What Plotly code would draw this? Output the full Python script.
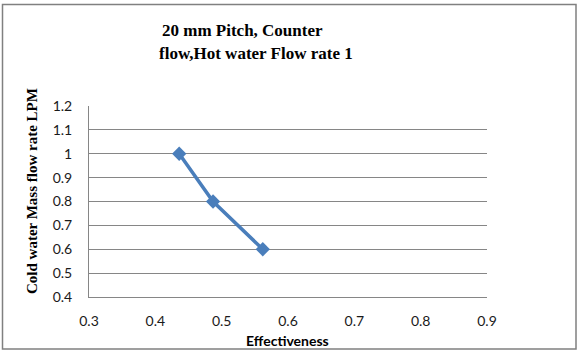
import plotly.graph_objects as go

effectiveness = [0.436, 0.487, 0.562]
cold_flow = [1.0, 0.8, 0.6]
x_ticks = [0.3, 0.4, 0.5, 0.6, 0.7, 0.8, 0.9]
y_ticks = [0.4, 0.5, 0.6, 0.7, 0.8, 0.9, 1.0, 1.1, 1.2]
y_tick_text = ["0.4", "0.5", "0.6", "0.7", "0.8", "0.9", "1", "1.1", "1.2"]

L, R, T, B = 89, 93, 106, 56
W, H = 580, 353
pw, ph = W - L - R, H - T - B

def px(x):
    return (x - L) / pw

def py(y):
    return (H - B - y) / ph

fig = go.Figure()
fig.add_trace(go.Scatter(
    x=effectiveness, y=cold_flow, mode="lines+markers",
    line=dict(color="#4A7EBB", width=3.5),
    marker=dict(symbol="diamond", size=11, color="#4A7EBB"),
    showlegend=False,
))

tickfont = dict(family="Lato, Liberation Sans, sans-serif", size=14, color="#1a1a1a")
fig.update_layout(
    width=W, height=H,
    margin=dict(l=L, r=R, t=T, b=B),
    paper_bgcolor="white", plot_bgcolor="white",
    xaxis=dict(range=[0.3, 0.9], tickvals=x_ticks, ticktext=[str(v) for v in x_ticks],
               showgrid=False, zeroline=False, showline=True, linecolor="#868686",
               linewidth=1, tickfont=tickfont, ticks="", ticklabelstandoff=11),
    yaxis=dict(range=[0.4, 1.2], tickvals=y_ticks, ticktext=y_tick_text,
               showgrid=True, gridcolor="#868686", gridwidth=1, zeroline=False,
               showline=True, linecolor="#868686", linewidth=1,
               tickfont=tickfont, ticks="", ticklabelstandoff=13),
    annotations=[
        dict(text="<b>20 mm Pitch, Counter</b>", x=px(242), y=py(30), xref="paper", yref="paper",
             showarrow=False, xanchor="center", yanchor="middle",
             font=dict(family="Liberation Serif, Times New Roman, serif", size=17, color="black")),
        dict(text="<b>flow,Hot water Flow rate 1</b>", x=px(256), y=py(53), xref="paper", yref="paper",
             showarrow=False, xanchor="center", yanchor="middle",
             font=dict(family="Liberation Serif, Times New Roman, serif", size=17, color="black")),
        dict(text="<b>Cold water Mass flow rate LPM</b>", x=px(32), y=py(191), xref="paper", yref="paper",
             showarrow=False, xanchor="center", yanchor="middle", textangle=-90,
             font=dict(family="Liberation Serif, Times New Roman, serif", size=15, color="black")),
        dict(text="<b>Effectiveness</b>", x=px(287), y=py(340), xref="paper", yref="paper",
             showarrow=False, xanchor="center", yanchor="middle",
             font=dict(family="Lato, Liberation Sans, sans-serif", size=14, color="black")),
    ],
    shapes=[
        dict(type="rect", xref="paper", yref="paper", x0=px(2.5), x1=px(576), y0=py(349), y1=py(4.5),
             line=dict(color="#808080", width=1.5), fillcolor="rgba(0,0,0,0)", layer="below"),
    ],
)

fig.write_html("out.html")
